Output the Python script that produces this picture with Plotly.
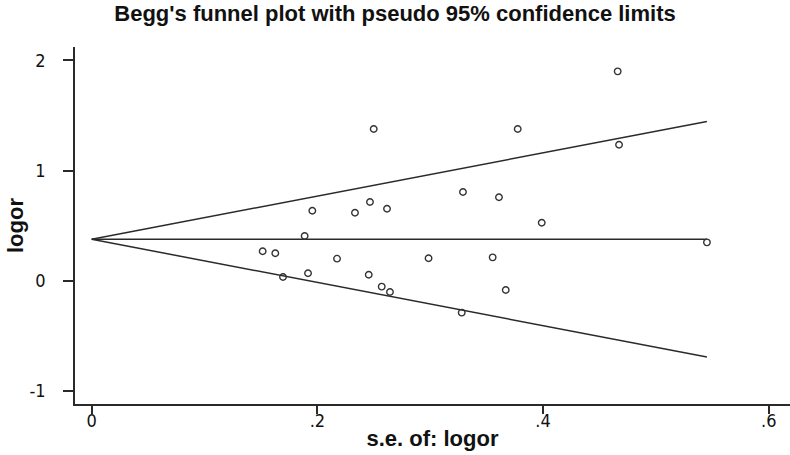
import plotly.graph_objects as go

# Study data: standard error of log odds ratio and log odds ratio
se = [0.2499, 0.4661, 0.3775, 0.4673, 0.3290, 0.3609, 0.1955, 0.2333, 0.2466,
      0.2617, 0.1887, 0.1515, 0.1627, 0.2174, 0.2985, 0.1695, 0.1917, 0.2455,
      0.2570, 0.2643, 0.3988, 0.5452, 0.3553, 0.3669, 0.3279]
logor = [1.377, 1.900, 1.377, 1.234, 0.805, 0.757, 0.635, 0.617, 0.714,
         0.653, 0.406, 0.267, 0.249, 0.200, 0.204, 0.034, 0.067, 0.054,
         -0.054, -0.103, 0.526, 0.348, 0.212, -0.084, -0.290]

pooled = 0.376
se_line = [0.0, max(se)]
upper = [pooled + 1.96 * s for s in se_line]
lower = [pooled - 1.96 * s for s in se_line]
mid = [pooled for s in se_line]

x_tickvals = [0, 0.2, 0.4, 0.6]
x_ticktext = ["0", ".2", ".4", ".6"]
y_tickvals = [-1, 0, 1, 2]
y_ticktext = ["-1", "0", "1", "2"]

LINE = "#2a2a2a"
FONT = "Liberation Sans Narrow, DejaVu Sans Condensed, Liberation Sans, Arial, sans-serif"
BOLD = "Liberation Sans, Arial, sans-serif"

fig = go.Figure()
for ys in (upper, mid, lower):
    fig.add_trace(go.Scatter(x=se_line, y=ys, mode="lines",
                             line=dict(color=LINE, width=1.5),
                             hoverinfo="skip", showlegend=False))
fig.add_trace(go.Scatter(x=se, y=logor, mode="markers",
                         marker=dict(symbol="circle-open", size=6.5,
                                     color="#333333", line=dict(width=1.4)),
                         showlegend=False))

fig.update_layout(
    width=790, height=455,
    margin=dict(l=75, r=0, t=47, b=51, autoexpand=False),
    paper_bgcolor="white", plot_bgcolor="white",
    title=dict(text="<b>Begg's funnel plot with pseudo 95% confidence limits</b>",
               x=0.5, xref="container", xanchor="center", y=0.9714, yref="container",
               yanchor="middle",
               font=dict(family=BOLD, size=22, color="#111111")),
    font=dict(family=FONT, color="#111111"),
)
fig.update_xaxes(
    range=[-0.0148, 0.6188], showgrid=False, zeroline=False, automargin=False,
    showline=True, linecolor=LINE, linewidth=1.5,
    ticks="outside", ticklen=8, tickwidth=1.5, tickcolor=LINE,
    tickvals=x_tickvals, ticktext=x_ticktext,
    tickfont=dict(size=18, family=FONT),
    ticklabelstandoff=-8,
    title=dict(text="<b>s.e. of: logor</b>", standoff=0,
               font=dict(family=BOLD, size=22)),
)
fig.update_yaxes(
    range=[-1.119, 2.121], showgrid=False, zeroline=False, automargin=False,
    showline=True, linecolor=LINE, linewidth=1.5,
    ticks="outside", ticklen=10, tickwidth=1.5, tickcolor=LINE,
    tickvals=y_tickvals, ticktext=y_ticktext,
    tickfont=dict(size=18, family=FONT),
    ticklabelstandoff=14,
    title=dict(text="<b>logor</b>", standoff=0,
               font=dict(family=BOLD, size=22)),
)

fig.write_html("out.html",
               config={"displayModeBar": False},
               post_script="document.body.style.margin='0';document.body.style.overflow='hidden';")
